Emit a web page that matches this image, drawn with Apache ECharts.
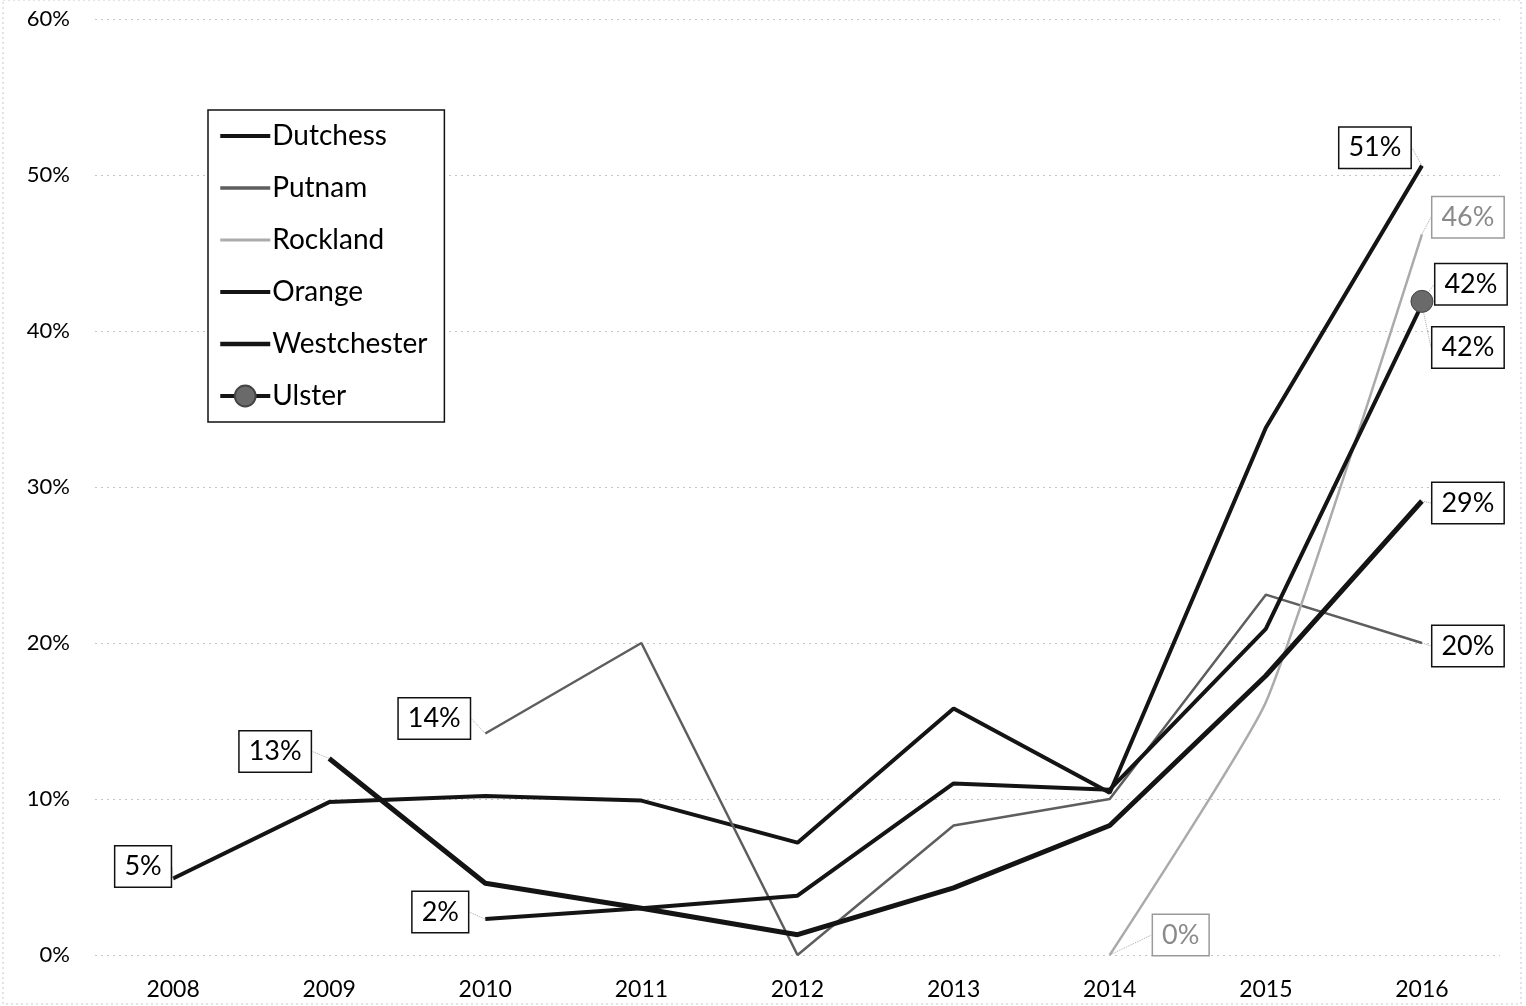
<!DOCTYPE html>
<html>
<head>
<meta charset="utf-8">
<script src="https://cdn.jsdelivr.net/npm/echarts@6/dist/echarts.min.js"></script>
<style>
  html, body { margin: 0; padding: 0; background: #fff; }
  #chart { width: 1526px; height: 1006px; }
</style>
</head>
<body>
<div id="chart"></div>
<script>
// categories and values (percent)
var years = ['2008', '2009', '2010', '2011', '2012', '2013', '2014', '2015', '2016']
var dutchess = [4.9, 9.8, 10.2, 9.9, 7.2, 15.8, 10.4, 33.8, 50.6]
var putnam = [null, null, 14.2, 20.0, 0, 8.3, 10.0, 23.1, 20.0]
var rockland = [null, null, null, null, null, null, 0, 16.2, 46.2]
var orange = [null, null, 2.3, 3.0, 3.8, 11.0, 10.6, 20.9, 41.7]
var westchester = [null, 12.6, 4.6, 3.0, 1.3, 4.3, 8.3, 17.9, 29.1]
var ulster = [null, null, null, null, null, null, null, null, 41.9]

// where the value boxes sit, relative to their point: index -> [dx, dy]
var labelSpots = {
  Dutchess: { 0: [-30, -12], 8: [-47, -18] },
  Putnam: { 2: [-51, -15], 8: [46, 3] },
  Rockland: { 6: [71, -20], 8: [46, -17] },
  Orange: { 2: [-45, -7], 8: [46, 43] },
  Westchester: { 1: [-54, -7], 8: [46, 2] },
  Ulster: { 8: [49, -17] }
}

var chart = echarts.init(document.getElementById('chart'))

function makeData (name, values, grey) {
  var spots = labelSpots[name] || {}
  return values.map(function (v, i) {
    if (spots[i] === undefined) return v
    return {
      value: v,
      label: {
        show: true,
        position: 'inside',
        formatter: function (p) { return Math.round(p.value) + '%' },
        fontFamily: 'Lato',
        fontSize: 27,
        color: grey ? '#8a8a8a' : '#000',
        backgroundColor: '#fff',
        borderColor: grey ? '#9a9a9a' : '#111',
        borderWidth: 1.5,
        padding: [7, 9, 6, 9]
      }
    }
  })
}

function lineSeries (name, values, color, width, extra) {
  var spots = labelSpots[name] || {}
  var s = {
    name: name,
    type: 'line',
    data: makeData(name, values, name === 'Rockland'),
    symbol: 'circle',
    symbolSize: 0.1,
    showSymbol: true,
    connectNulls: false,
    itemStyle: { color: color },
    lineStyle: { color: color, width: width },
    label: { show: false },
    labelLine: { show: true, lineStyle: { color: '#aaa', width: 1, type: 'dotted' } },
    labelLayout: function (p) {
      var o = spots[p.dataIndex]
      return o ? { dx: o[0], dy: o[1] } : {}
    },
    emphasis: { disabled: true },
    animation: false
  }
  return Object.assign(s, extra || {})
}

var hideDot = { opacity: 0 }

var option = {
  backgroundColor: '#fff',
  grid: { left: 95, right: 26, top: 19, bottom: 51 },
  graphic: [{
    type: 'rect',
    shape: { x: 3, y: 0, width: 1518, height: 1004 },
    style: { fill: 'none', stroke: '#c8c8c8', lineWidth: 1, lineDash: [2, 3] },
    silent: true
  }],
  legend: {
    orient: 'vertical',
    left: 208,
    top: 110,
    padding: [11, 17, 11, 10],
    itemWidth: 50,
    itemHeight: 26,
    itemGap: 22,
    borderColor: '#111',
    borderWidth: 1.5,
    backgroundColor: '#fff',
    textStyle: { fontFamily: 'Lato', fontSize: 28, color: '#000', lineHeight: 30, padding: [0, 0, 0, -3] },
    data: [
      { name: 'Dutchess', itemStyle: hideDot, lineStyle: { width: 4 } },
      { name: 'Putnam', itemStyle: hideDot, lineStyle: { width: 3.5 } },
      { name: 'Rockland', itemStyle: hideDot, lineStyle: { width: 3 } },
      { name: 'Orange', itemStyle: hideDot, lineStyle: { width: 4 } },
      { name: 'Westchester', itemStyle: hideDot, lineStyle: { width: 4.5 } },
      { name: 'Ulster', lineStyle: { width: 4 } }
    ]
  },
  xAxis: {
    type: 'category',
    data: years,
    boundaryGap: true,
    axisLine: { show: false },
    axisTick: { show: false },
    axisLabel: { fontFamily: 'Lato', fontSize: 23, color: '#000', margin: 23 }
  },
  yAxis: {
    type: 'value',
    min: 0,
    max: 60,
    interval: 10,
    axisLine: { show: false },
    axisTick: { show: false },
    axisLabel: { fontFamily: 'Lato', fontSize: 22, color: '#000', margin: 25, formatter: '{value}%' },
    splitLine: { lineStyle: { color: '#c4c4c4', width: 1, type: [2, 4] } }
  },
  series: [
    lineSeries('Dutchess', dutchess, '#141414', 4),
    lineSeries('Putnam', putnam, '#5e5e5e', 2.5),
    lineSeries('Rockland', rockland, '#ababab', 2.5, { smooth: 0.15 }),
    lineSeries('Orange', orange, '#141414', 4),
    lineSeries('Westchester', westchester, '#141414', 5),
    lineSeries('Ulster', ulster, '#141414', 4, {
      symbolSize: 22,
      itemStyle: { color: '#6a6a6a', borderColor: '#444', borderWidth: 1 },
      z: 5
    })
  ]
}

chart.setOption(option)
</script>
</body>
</html>
